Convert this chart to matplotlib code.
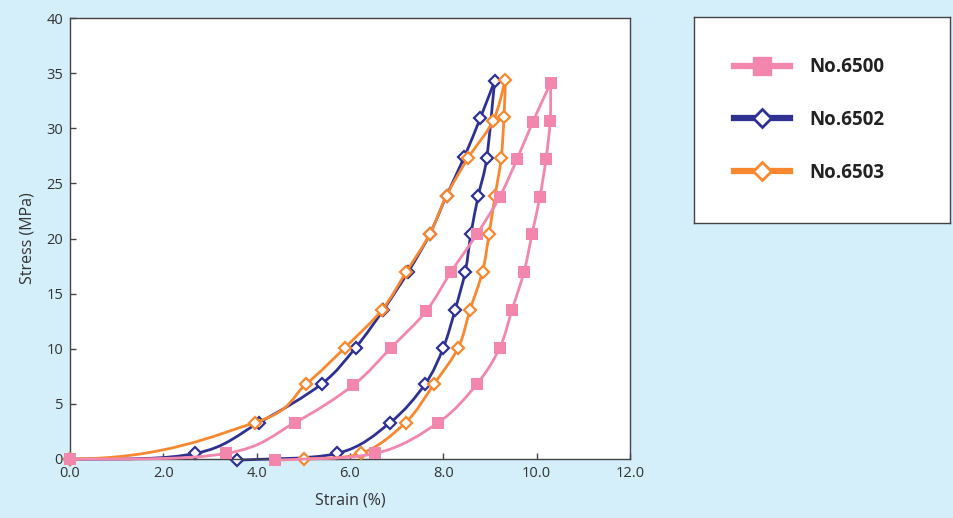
import numpy as np
import matplotlib
matplotlib.use("Agg")
import matplotlib.pyplot as plt
from matplotlib.path import Path
from matplotlib.patches import PathPatch
from matplotlib.lines import Line2D

# --- Data (loading branch, then unloading branch) ---
strain_6500_load = [0.0, 3.34, 4.82, 6.07, 6.88, 7.63, 8.17, 8.72, 9.21, 9.58, 9.92, 10.30]
stress_6500_load = [0.0, 0.5, 3.3, 6.7, 10.1, 13.4, 17.0, 20.4, 23.8, 27.2, 30.6, 34.1]
strain_6500_unload = [10.30, 10.29, 10.20, 10.07, 9.90, 9.73, 9.47, 9.21, 8.72, 7.89, 6.54, 4.39]
stress_6500_unload = [34.1, 30.7, 27.2, 23.8, 20.4, 17.0, 13.5, 10.1, 6.8, 3.3, 0.5, -0.1]

strain_6502_load = [0.0, 2.68, 4.05, 5.39, 6.12, 6.71, 7.25, 7.71, 8.07, 8.45, 8.79, 9.10]
stress_6502_load = [0.0, 0.5, 3.3, 6.8, 10.1, 13.5, 17.0, 20.4, 23.9, 27.4, 30.9, 34.3]
strain_6502_unload = [9.10, 8.93, 8.75, 8.59, 8.47, 8.25, 8.00, 7.61, 6.86, 5.72, 3.58]
stress_6502_unload = [34.3, 27.3, 23.9, 20.4, 17.0, 13.5, 10.1, 6.8, 3.3, 0.5, -0.1]

strain_6503_load = [0.0, 3.96, 5.06, 5.89, 6.68, 7.21, 7.71, 8.07, 8.53, 9.07, 9.33]
stress_6503_load = [0.0, 3.3, 6.8, 10.1, 13.5, 17.0, 20.4, 23.9, 27.3, 30.7, 34.4]
strain_6503_unload = [9.33, 9.30, 9.24, 9.11, 8.98, 8.84, 8.57, 8.32, 7.80, 7.19, 6.24, 5.01]
stress_6503_unload = [34.4, 31.0, 27.3, 23.9, 20.4, 17.0, 13.5, 10.1, 6.8, 3.3, 0.5, 0.0]

labels = ["No.6500", "No.6502", "No.6503"]
x_ticks = [0, 2, 4, 6, 8, 10, 12]
y_ticks = [0, 5, 10, 15, 20, 25, 30, 35, 40]

PINK = "#f386ad"
NAVY = "#2e3192"
ORANGE = "#f7882f"
BG = "#d4eefa"
EDGE = "#444444"


def smooth_path(xs, ys, flat_start=False):
    """Catmull-Rom style bezier through the points (like a 'smoothed line')."""
    p = np.column_stack([xs, ys]).astype(float)
    ext = np.vstack([p[0], p, p[-1]])
    verts = [p[0]]
    codes = [Path.MOVETO]
    for i in range(1, len(ext) - 2):
        c1 = ext[i] + (ext[i + 1] - ext[i - 1]) / 6
        c2 = ext[i + 1] - (ext[i + 2] - ext[i]) / 6
        if flat_start and i == 1:
            # curve leaves the origin flat, as in the original chart
            c1 = np.array([ext[1][0] + (ext[2][0] - ext[1][0]) / 2, ext[1][1]])
        verts += [c1, c2, ext[i + 1]]
        codes += [Path.CURVE4] * 3
    return Path(verts, codes)


plt.rcParams['font.family'] = ['Open Sans', 'DejaVu Sans']

fig = plt.figure(figsize=(9.54, 5.18), dpi=100, facecolor=BG)
ax = fig.add_axes([70 / 954, 59 / 518, 560 / 954, 441 / 518])
ax.set_facecolor("white")

series = [
    (strain_6502_load, stress_6502_load, strain_6502_unload, stress_6502_unload, NAVY, "D"),
    (strain_6503_load, stress_6503_load, strain_6503_unload, stress_6503_unload, ORANGE, "D"),
    (strain_6500_load, stress_6500_load, strain_6500_unload, stress_6500_unload, PINK, "s"),
]

for z, (xl, yl, xu, yu, col, mk) in enumerate(series):
    ax.add_patch(PathPatch(smooth_path(xl, yl, flat_start=True), facecolor="none",
                           edgecolor=col, lw=2.0, zorder=2 + z, clip_on=False))
    ax.add_patch(PathPatch(smooth_path(xu, yu), facecolor="none",
                           edgecolor=col, lw=2.0, zorder=2 + z, clip_on=False))
    mx = list(xl) + list(xu[1:])
    my = list(yl) + list(yu[1:])
    if mk == "s":
        ax.plot(mx, my, ls="none", marker="s", ms=8.5, mfc=col, mec=col, mew=0,
                zorder=2.5 + z, clip_on=False)
    else:
        ax.plot(mx, my, ls="none", marker="D", ms=6.2, mfc="white", mec=col, mew=1.6,
                zorder=2.5 + z, clip_on=False)

ax.set_xlim(0, 12)
ax.set_ylim(0, 40)
ax.set_xticks(x_ticks)
ax.set_xticklabels([f"{v:.1f}" for v in x_ticks])
ax.set_yticks(y_ticks)
ax.tick_params(direction="in", length=4, width=1, color=EDGE, labelsize=10.5,
               labelcolor="#333333", pad=5)
for s in ax.spines.values():
    s.set_color(EDGE)
    s.set_linewidth(1.0)
ax.set_xlabel("Strain (%)", fontsize=11.5, color="#333333", labelpad=8)
ax.set_ylabel("Stress (MPa)", fontsize=11.5, color="#333333", labelpad=8)

# legend box drawn as its own axes
lax = fig.add_axes([694 / 954, 295 / 518, 256 / 954, 206 / 518])
lax.set_facecolor("white")
lax.set_xticks([])
lax.set_yticks([])
for s in lax.spines.values():
    s.set_color(EDGE)
    s.set_linewidth(1.0)
handles = [
    Line2D([], [], color=PINK, lw=4.5, marker="s", ms=13, mfc=PINK, mec=PINK),
    Line2D([], [], color=NAVY, lw=4.5, marker="D", ms=9, mfc="white", mec=NAVY, mew=2),
    Line2D([], [], color=ORANGE, lw=4.5, marker="D", ms=9, mfc="white", mec=ORANGE, mew=2),
]
leg = lax.legend(handles, labels, loc="center left", bbox_to_anchor=(0.09, 0.5),
                 frameon=False, handlelength=3.0, handletextpad=1.0, labelspacing=1.75,
                 prop={"size": 13.5, "weight": "bold"})
for t in leg.get_texts():
    t.set_color("#222222")

fig.savefig("out.png", dpi=100, facecolor=BG)
